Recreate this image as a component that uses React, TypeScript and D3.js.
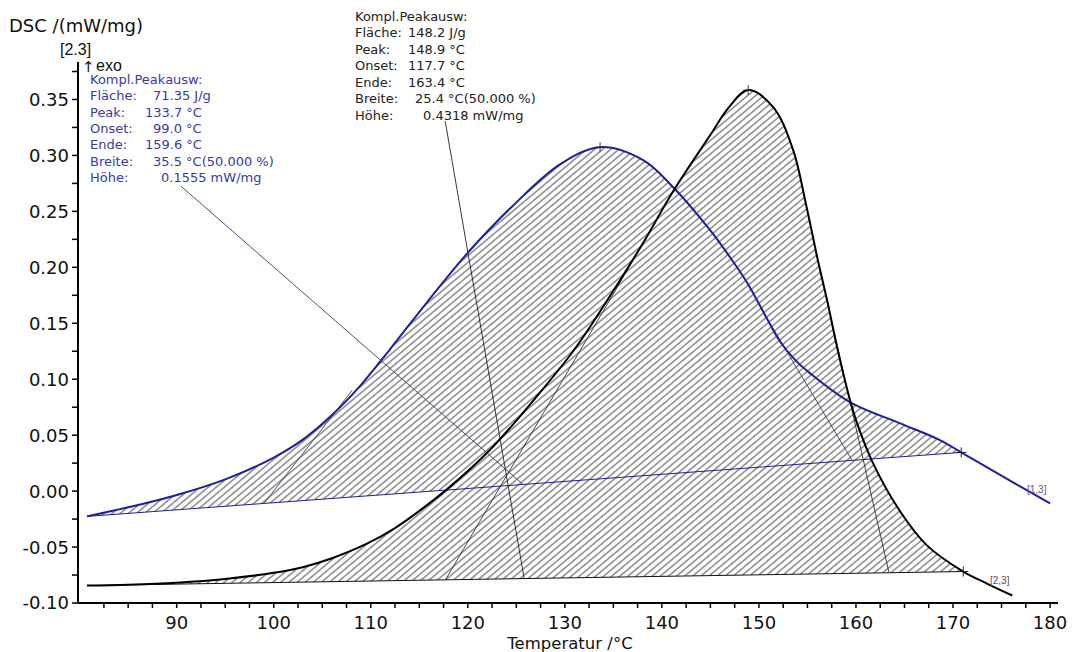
import React from 'react';
import * as d3 from 'd3';

// ---- data (temperature °C, DSC mW/mg) ----
const blueT = [80.75, 85.0, 90.0, 95.0, 100.0, 103.0, 106.0, 109.0, 112.0, 116.0, 120.0, 124.7, 129.5, 133.63, 138.07, 141.16, 144.97, 146.9, 148.79, 150.5, 152.19, 153.7, 155.28, 159.41, 164.56, 168.7, 170.85, 172.81, 176.0, 180.0];
const blueV = [-0.0226, -0.0145, -0.0035, 0.0105, 0.03, 0.046, 0.068, 0.095, 0.127, 0.171, 0.213, 0.2555, 0.292, 0.3074, 0.2958, 0.2716, 0.2332, 0.2105, 0.1862, 0.1595, 0.1335, 0.1175, 0.1052, 0.0793, 0.0606, 0.0454, 0.0346, 0.0247, 0.0087, -0.011];

const blackT = [80.75, 85.0, 90.0, 95.0, 100.0, 103.0, 106.0, 109.6, 112.5, 114.8, 117.9, 122.3, 127.14, 130.85, 133.96, 138.08, 141.16, 144.97, 146.9, 148.89, 151.47, 153.53, 154.87, 156.12, 157.03, 158.06, 159.4, 160.12, 161.77, 164.56, 167.34, 171.06, 173.5, 176.11];
const blackV = [-0.0844, -0.0836, -0.0818, -0.0785, -0.073, -0.068, -0.06, -0.047, -0.033, -0.019, 0.002, 0.037, 0.085, 0.125, 0.165, 0.222, 0.268, 0.318, 0.343, 0.3584, 0.3432, 0.3047, 0.2555, 0.2045, 0.1705, 0.1284, 0.081, 0.0606, 0.0248, -0.0182, -0.0487, -0.0719, -0.0826, -0.0933];

const blueBaseT = [80.75, 170.85];
const blueBaseV = [-0.0226, 0.0346];
const blackBaseT = [80.75, 171.06];
const blackBaseV = [-0.0844, -0.0719];

// onset / end temperatures and tangent touch points
const blueOnsetEndT = [99.0, 159.6];
const blueTouchT = [108.07, 151.0];
const blueTouchV = [0.09, 0.152];
const blackOnsetEndT = [117.7, 163.4];
const blackTouchT = [138.5, 156.12];
const blackTouchV = [0.228, 0.2045];

const bluePeak = [133.63, 0.3074];
const blackPeak = [148.89, 0.3584];

// leader lines: start point near text, end on baseline
const blueLeaderStart = [90.44, 0.2725];
const blueLeaderEndT = 125.7;
const blackLeaderStart = [117.67, 0.3307];
const blackLeaderEndT = 125.81;

const xTicks = d3.range(82.5, 180.01, 2.5);
const xLabels = [90, 100, 110, 120, 130, 140, 150, 160, 170, 180];
const yTicks = d3.range(-0.1, 0.3751, 0.025);
const yLabels = [-0.1, -0.05, 0, 0.05, 0.1, 0.15, 0.2, 0.25, 0.3, 0.35];

const blueInfo = [
  ['Kompl.Peakausw:', ''],
  ['Fläche:', '71.35 J/g'],
  ['Peak:', '133.7 °C'],
  ['Onset:', '99.0 °C'],
  ['Ende:', '159.6 °C'],
  ['Breite:', '35.5 °C(50.000 %)'],
  ['Höhe:', '0.1555 mW/mg'],
];
const blueValX = [0, 153, 145, 153, 145, 153, 161];
const blackInfo = [
  ['Kompl.Peakausw:', ''],
  ['Fläche:', '148.2 J/g'],
  ['Peak:', '148.9 °C'],
  ['Onset:', '117.7 °C'],
  ['Ende:', '163.4 °C'],
  ['Breite:', '25.4 °C(50.000 %)'],
  ['Höhe:', '0.4318 mW/mg'],
];
const blackValX = [0, 408, 408, 408, 408, 415, 423];

const FONT = 'DejaVu Sans, sans-serif';
const ARIAL = 'Liberation Sans, Arial, sans-serif';
const BLUE = '#1f1f9c';
const BLUE_TXT = '#3a3aa0';

export default function App() {
  const x = d3.scaleLinear().domain([79.83, 180.82]).range([78, 1058]);
  const y = d3.scaleLinear().domain([-0.1, 0.3835]).range([603, 62]);

  const blue: [number, number][] = blueT.map((t, i) => [t, blueV[i]]);
  const black: [number, number][] = blackT.map((t, i) => [t, blackV[i]]);

  const baseFn = (bt: number[], bv: number[]) => (t: number) =>
    bv[0] + ((t - bt[0]) * (bv[1] - bv[0])) / (bt[1] - bt[0]);
  const blueBase = baseFn(blueBaseT, blueBaseV);
  const blackBase = baseFn(blackBaseT, blackBaseV);

  const curve = d3.curveCatmullRom.alpha(0.5);
  const line = d3
    .line<[number, number]>()
    .x((d) => x(d[0]))
    .y((d) => y(d[1]))
    .curve(curve);

  const areaFor = (pts: [number, number][], base: (t: number) => number, tEnd: number) =>
    d3
      .area<[number, number]>()
      .x((d) => x(d[0]))
      .y0((d) => y(base(d[0])))
      .y1((d) => y(d[1]))
      .curve(curve)(pts.filter((d) => d[0] <= tEnd + 1e-9)) || '';

  const seg = (t0: number, v0: number, t1: number, v1: number) =>
    `M${x(t0)},${y(v0)}L${x(t1)},${y(v1)}`;

  const cross = (t: number, v: number, s = 5) => {
    const cx = x(t), cy = y(v);
    return `M${cx - s},${cy}h${2 * s}M${cx},${cy - s}v${2 * s}`;
  };

  const fmt = d3.format('.2f');
  const hatchPath = areaFor(blue, blueBase, blueBaseT[1]) + areaFor(black, blackBase, blackBaseT[1]);

  return (
    <svg
      width={1073}
      height={652}
      style={{ position: 'absolute', left: 0, top: 0, background: '#fff' }}
      fontFamily={FONT}
    >
      <defs>
        <pattern id="hatch" patternUnits="userSpaceOnUse" width={5.2} height={10} patternTransform="rotate(50)">
          <line x1={2.6} y1={0} x2={2.6} y2={10} stroke="#4a4a4a" strokeWidth={1} />
        </pattern>
      </defs>

      {/* hatched peak areas (one path so overlap is hatched once) */}
      <path d={hatchPath} fill="url(#hatch)" fillRule="nonzero" />

      {/* baselines */}
      <path d={seg(blueBaseT[0], blueBaseV[0], blueBaseT[1], blueBaseV[1])} stroke={BLUE} strokeWidth={1} fill="none" />
      <path d={seg(blackBaseT[0], blackBaseV[0], blackBaseT[1], blackBaseV[1])} stroke="#111" strokeWidth={1} fill="none" />

      {/* tangents */}
      {blueOnsetEndT.map((t, i) => (
        <path key={'bt' + i} d={seg(t, blueBase(t), blueTouchT[i], blueTouchV[i])} stroke="#3b3b70" strokeWidth={0.9} fill="none" />
      ))}
      {blackOnsetEndT.map((t, i) => (
        <path key={'kt' + i} d={seg(t, blackBase(t), blackTouchT[i], blackTouchV[i])} stroke="#333" strokeWidth={0.9} fill="none" />
      ))}

      {/* leader lines */}
      <path d={seg(blueLeaderStart[0], blueLeaderStart[1], blueLeaderEndT, blueBase(blueLeaderEndT))} stroke="#3a3a70" strokeWidth={0.9} fill="none" />
      <path d={seg(blackLeaderStart[0], blackLeaderStart[1], blackLeaderEndT, blackBase(blackLeaderEndT))} stroke="#222" strokeWidth={0.9} fill="none" />

      {/* curves */}
      <path d={line(blue) || ''} stroke={BLUE} strokeWidth={2} fill="none" />
      <path d={line(black) || ''} stroke="#000" strokeWidth={2} fill="none" />

      {/* crosses */}
      <path d={cross(bluePeak[0], bluePeak[1])} stroke="#333" strokeWidth={0.9} />
      <path d={cross(blackPeak[0], blackPeak[1])} stroke="#333" strokeWidth={0.9} />
      <path d={cross(blueBaseT[1], blueBaseV[1])} stroke="#222" strokeWidth={1} />
      <path d={cross(blackBaseT[1], blackBaseV[1])} stroke="#222" strokeWidth={1} />

      {/* axes */}
      <line x1={78} y1={62} x2={78} y2={603} stroke="#000" strokeWidth={2} />
      <line x1={78} y1={603} x2={1058} y2={603} stroke="#000" strokeWidth={2} />
      {xTicks.map((t) => (
        <line key={'xt' + t} x1={x(t)} x2={x(t)} y1={603} y2={608} stroke="#000" strokeWidth={1.5} />
      ))}
      {yTicks.map((v) => (
        <line key={'yt' + v} x1={72} x2={78} y1={y(v)} y2={y(v)} stroke="#000" strokeWidth={1.5} />
      ))}
      {xLabels.map((t) => (
        <text key={'xl' + t} x={x(t)} y={628.5} fontSize={18} textAnchor="middle" fill="#111">
          {t}
        </text>
      ))}
      {yLabels.map((v) => (
        <text key={'yl' + v} x={69} y={y(v)} dy="0.36em" fontSize={18} textAnchor="end" fill="#111">
          {fmt(v).replace('−', '-')}
        </text>
      ))}

      {/* axis titles */}
      <text x={9} y={32} fontSize={18} fill="#111">DSC /(mW/mg)</text>
      <text x={60} y={55} fontSize={16} fontFamily={ARIAL} fill="#111">[2.3]</text>
      <text x={82} y={72} fontSize={15} fill="#111">↑</text>
      <text x={96} y={71} fontSize={16} fontFamily={ARIAL} fill="#111">exo</text>
      <text x={570} y={649} fontSize={16.5} textAnchor="middle" fill="#111">Temperatur /°C</text>

      {/* annotation blocks */}
      {blueInfo.map((r, i) => (
        <g key={'bi' + i} fontSize={13} fill={BLUE_TXT}>
          <text x={90} y={84 + i * 16.3}>{r[0]}</text>
          {r[1] && <text x={blueValX[i]} y={84 + i * 16.3}>{r[1]}</text>}
        </g>
      ))}
      {blackInfo.map((r, i) => (
        <g key={'ki' + i} fontSize={13} fill="#222">
          <text x={355} y={20.5 + i * 16.5}>{r[0]}</text>
          {r[1] && <text x={blackValX[i]} y={20.5 + i * 16.5}>{r[1]}</text>}
        </g>
      ))}

      {/* curve end labels */}
      <text x={1027} y={493} fontSize={10} fontFamily={ARIAL} fill="#5a5aa8">[1,3]</text>
      <text x={990} y={584} fontSize={10} fontFamily={ARIAL} fill="#555">[2,3]</text>
    </svg>
  );
}
